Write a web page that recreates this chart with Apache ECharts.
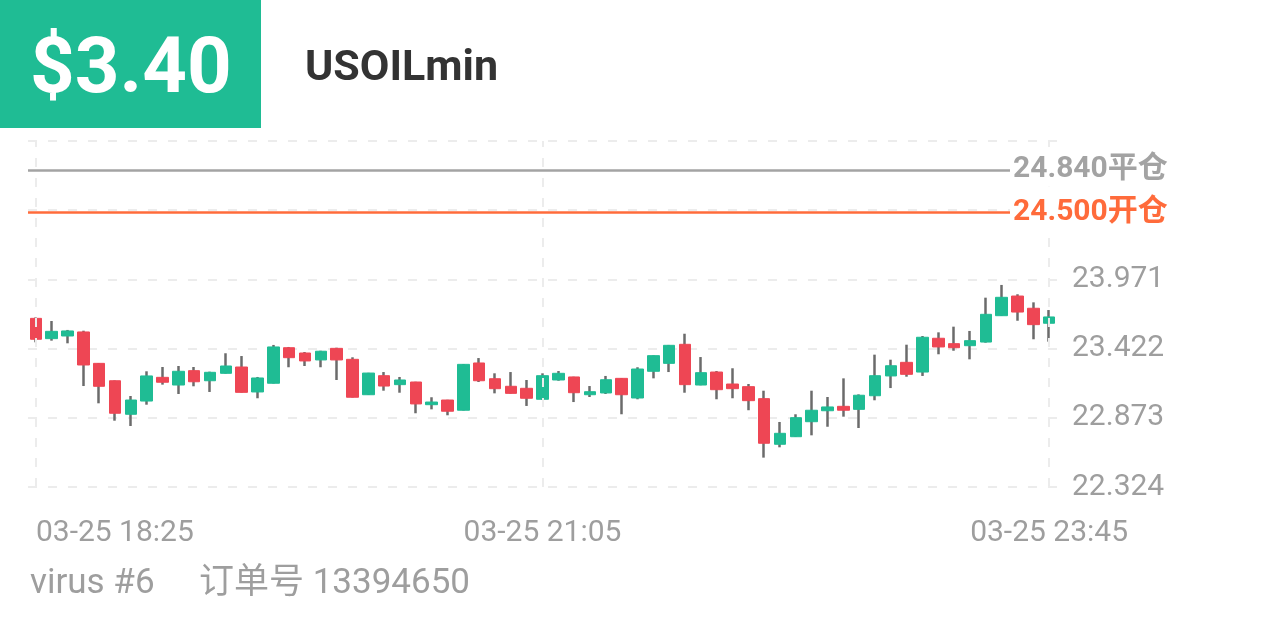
<!DOCTYPE html>
<html>
<head>
<meta charset="utf-8">
<script src="https://cdn.jsdelivr.net/npm/echarts@6/dist/echarts.min.js"></script>
<style>
html,body{margin:0;padding:0;background:#fff;}
#chart{width:1266px;height:633px;}
</style>
</head>
<body>
<div id="chart"></div>
<script>
// ---- data ----
const categories = [
  '03-25 18:25','03-25 18:30','03-25 18:35','03-25 18:40','03-25 18:45','03-25 18:50','03-25 18:55','03-25 19:00',
  '03-25 19:05','03-25 19:10','03-25 19:15','03-25 19:20','03-25 19:25','03-25 19:30','03-25 19:35','03-25 19:40',
  '03-25 19:45','03-25 19:50','03-25 19:55','03-25 20:00','03-25 20:05','03-25 20:10','03-25 20:15','03-25 20:20',
  '03-25 20:25','03-25 20:30','03-25 20:35','03-25 20:40','03-25 20:45','03-25 20:50','03-25 20:55','03-25 21:00',
  '03-25 21:05','03-25 21:10','03-25 21:15','03-25 21:20','03-25 21:25','03-25 21:30','03-25 21:35','03-25 21:40',
  '03-25 21:45','03-25 21:50','03-25 21:55','03-25 22:00','03-25 22:05','03-25 22:10','03-25 22:15','03-25 22:20',
  '03-25 22:25','03-25 22:30','03-25 22:35','03-25 22:40','03-25 22:45','03-25 22:50','03-25 22:55','03-25 23:00',
  '03-25 23:05','03-25 23:10','03-25 23:15','03-25 23:20','03-25 23:25','03-25 23:30','03-25 23:35','03-25 23:40',
  '03-25 23:45'
];
const openValues = [
  23.662,23.501,23.522,23.554,23.305,23.167,22.901,23.006,23.194,23.133,23.247,23.167,23.226,23.276,23.078,23.147,
  23.429,23.387,23.332,23.424,23.337,23.056,23.207,23.136,23.157,22.977,23.014,22.933,23.308,23.183,23.123,23.107,
  23.020,23.173,23.197,23.056,23.070,23.186,23.030,23.242,23.305,23.456,23.133,23.236,23.141,23.120,23.025,22.663,
  22.723,22.842,22.929,22.964,22.940,23.048,23.205,23.313,23.236,23.504,23.461,23.445,23.474,23.683,23.839,23.742,
  23.623
];
const closeValues = [
  23.496,23.559,23.562,23.292,23.123,22.909,23.014,23.205,23.155,23.242,23.159,23.234,23.284,23.075,23.189,23.435,
  23.350,23.324,23.401,23.332,23.036,23.228,23.125,23.173,22.983,22.998,22.925,23.297,23.167,23.104,23.067,23.028,
  23.207,23.226,23.072,23.080,23.175,23.056,23.260,23.366,23.448,23.136,23.231,23.096,23.104,23.009,22.671,22.750,
  22.874,22.933,22.959,22.933,23.052,23.207,23.286,23.218,23.512,23.435,23.429,23.485,23.694,23.829,23.712,23.612,
  23.673
];
const lowValues = [
  23.472,23.485,23.464,23.125,22.988,22.850,22.808,22.977,23.136,23.062,23.123,23.078,23.224,23.073,23.028,23.145,
  23.274,23.284,23.274,23.173,23.034,23.054,23.088,23.072,22.909,22.940,22.893,22.931,23.157,23.067,23.065,22.967,
  23.014,23.167,22.998,23.038,23.062,22.901,23.020,23.186,23.236,23.072,23.131,23.020,23.028,22.933,22.557,22.639,
  22.721,22.734,22.802,22.882,22.792,23.012,23.109,23.199,23.205,23.377,23.405,23.337,23.469,23.681,23.643,23.496,
  23.477
];
const highValues = [
  23.669,23.641,23.570,23.564,23.308,23.169,23.046,23.242,23.276,23.284,23.276,23.239,23.385,23.363,23.197,23.451,
  23.435,23.395,23.405,23.429,23.353,23.230,23.236,23.197,23.159,23.036,23.016,23.300,23.347,23.226,23.236,23.173,
  23.226,23.244,23.199,23.125,23.205,23.189,23.274,23.368,23.451,23.540,23.355,23.244,23.266,23.141,23.088,22.840,
  22.901,23.088,23.038,23.186,23.059,23.374,23.334,23.453,23.522,23.551,23.596,23.562,23.826,23.927,23.853,23.789,
  23.728
];
const yAxisMin = 22.324;
const yAxisMax = 25.069;
const yAxisStep = 0.549;
const yTickLabels = ['22.324', '22.873', '23.422', '23.971'];
const xLabelIndices = [0, 32, 64];
const closePrice = 24.840;
const closeLabel = '24.840平仓';
const openPrice = 24.500;
const openLabel = '24.500开仓';
const profitText = '$3.40';
const symbolText = 'USOILmin';
const accountText = 'virus #6';
const orderText = '订单号 13394650';

// ---- build ----
const wickData = categories.map((c, i) => [openValues[i], closeValues[i], lowValues[i], highValues[i]]);
const bodyData = categories.map((c, i) => {
  const o = openValues[i], cl = closeValues[i];
  return [o, cl, Math.min(o, cl), Math.max(o, cl)];
});

const GREEN = '#1fbc94';
const RED = '#ee4654';
const WICK = '#6b6b6b';
const FONT = 'Roboto, "Noto Sans CJK SC", sans-serif';

const chart = echarts.init(document.getElementById('chart'), null, {renderer: 'canvas'});
chart.setOption({
  animation: false,
  backgroundColor: '#ffffff',
  grid: {left: 28, right: 209, top: 141, bottom: 146, containLabel: false},
  xAxis: {
    type: 'category',
    data: categories,
    boundaryGap: true,
    axisLine: {show: false},
    axisTick: {show: false},
    splitLine: {show: false},
    axisLabel: {
      interval: function (idx) { return xLabelIndices.indexOf(idx) >= 0; },
      color: '#9e9e9e',
      fontSize: 30,
      fontFamily: FONT,
      margin: 31,
      alignMinLabel: 'left'
    }
  },
  yAxis: {
    type: 'value',
    position: 'right',
    min: yAxisMin,
    max: yAxisMax,
    interval: yAxisStep,
    scale: true,
    axisLine: {show: false},
    axisTick: {show: false},
    axisLabel: {
      color: '#9e9e9e',
      fontSize: 30,
      fontFamily: FONT,
      margin: 15,
      formatter: function (v, idx) { return yTickLabels[idx] || ''; }
    },
    splitLine: {show: true, lineStyle: {color: '#ececec', width: 2, type: [9, 11]}}
  },
  graphic: [
    {type: 'rect', left: 0, top: 0, shape: {width: 261, height: 128}, style: {fill: GREEN}, z: 10},
    {type: 'text', left: 30, top: 33, style: {text: profitText, fill: '#ffffff', font: 'bold 78px ' + FONT}, z: 11},
    {type: 'text', left: 305, top: 48, style: {text: symbolText, fill: '#333333', font: 'bold 43px ' + FONT}, z: 11},
    {type: 'text', left: 30, top: 567, style: {text: accountText, fill: '#9e9e9e', font: '35px ' + FONT}, z: 11},
    {type: 'text', left: 199, top: 567, style: {text: orderText, fill: '#9e9e9e', font: '35px ' + FONT}, z: 11}
  ],
  series: [
    {
      type: 'candlestick',
      name: 'wick',
      data: wickData,
      barWidth: 1,
      z: 2,
      itemStyle: {color: WICK, color0: WICK, borderColor: WICK, borderColor0: WICK, borderWidth: 2.5},
      markLine: {
        silent: true,
        symbol: 'none',
        label: {show: false},
        lineStyle: {color: '#ececec', width: 2, type: [9, 11]},
        data: xLabelIndices.map(i => ({xAxis: categories[i]}))
      }
    },
    {
      type: 'candlestick',
      name: 'body',
      data: bodyData,
      barWidth: 12,
      z: 3,
      itemStyle: {color: GREEN, color0: RED, borderColor: GREEN, borderColor0: RED, borderWidth: 1},
      markLine: {
        silent: true,
        symbol: 'none',
        data: [
          {yAxis: closePrice, lineStyle: {color: '#a3a3a3', width: 2.5, type: 'solid'},
           label: {show: true, position: 'end', distance: [-47, 0], formatter: closeLabel, color: '#a3a3a3',
                   fontSize: 30, fontWeight: 'bold', fontFamily: FONT, backgroundColor: '#ffffff', padding: [2, 2, 2, 3]}},
          {yAxis: openPrice, lineStyle: {color: '#ff6b3b', width: 2.5, type: 'solid'},
           label: {show: true, position: 'end', distance: [-47, 0], formatter: openLabel, color: '#ff6b3b',
                   fontSize: 30, fontWeight: 'bold', fontFamily: FONT, backgroundColor: '#ffffff', padding: [2, 2, 2, 3]}}
        ]
      }
    }
  ]
});
</script>
</body>
</html>
